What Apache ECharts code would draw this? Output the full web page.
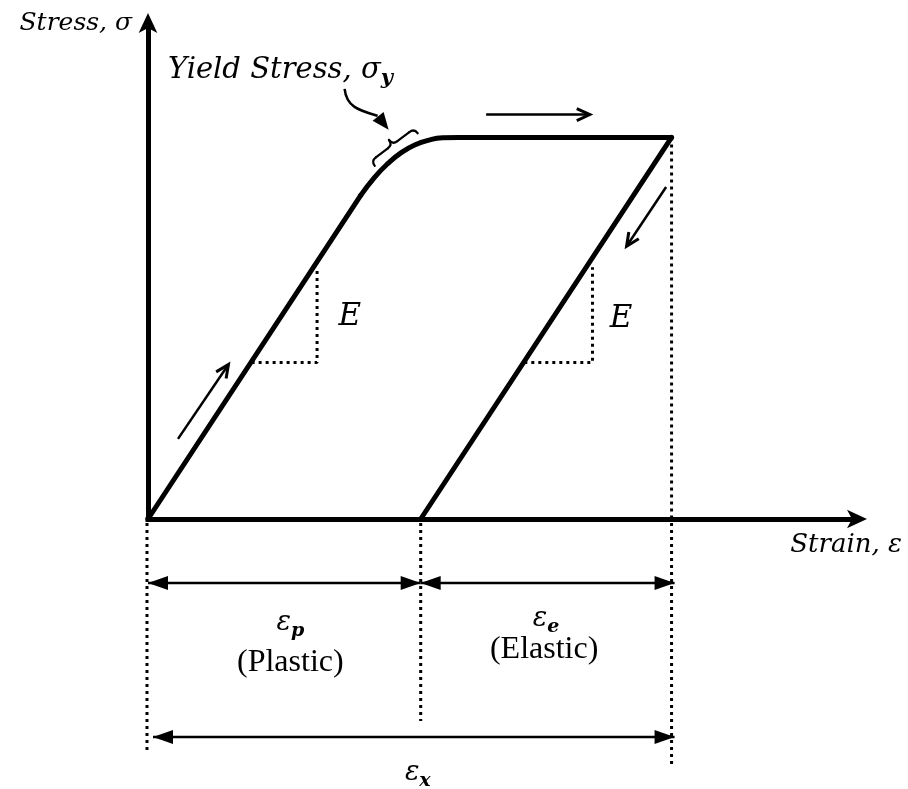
<!DOCTYPE html>
<html>
<head>
<meta charset="utf-8">
<script src="https://cdn.jsdelivr.net/npm/echarts@6/dist/echarts.min.js"></script>
<style>
  html, body { margin: 0; padding: 0; background: #ffffff; }
  #chart { width: 908px; height: 789px; }
</style>
</head>
<body>
<div id="chart"></div>
<script>
// Stress-strain loading / unloading cycle, normalised so that yield stress = 1.
// Each path is [strain, stress].
const loadingPath   = [[0, 0], [0.78, 0.848]];
const yieldKnee     = [[0.78, 0.848], [0.83, 0.895], [0.88, 0.932], [0.93, 0.961], [0.98, 0.981], [1.03, 0.993], [1.08, 0.999], [1.14, 1.0]];
const plateauPath   = [[1.14, 1.0], [1.92, 1.0]];
const unloadingPath = [[1.92, 1.0], [1.0, 0]];

const strainPlastic = 1.0;   // residual strain after unloading
const strainTotal   = 1.92;  // strain at the end of loading
const yieldStress   = 1.0;

// Slope triangles marking the modulus E
const slopeLeft  = [[0.38, 0.41], [0.62, 0.41], [0.62, 0.66]];
const slopeRight = [[1.38, 0.41], [1.63, 0.41], [1.63, 0.66]];

// Axis extents
const strainMax = 2.6;
const stressMax = 1.3;

// Text
const yTitle = 'Stress, σ';
const xTitle = 'Strain, ε';
const yieldText = 'Yield Stress, σ';
const yieldSub = 'y';
const modulusText = 'E';
const plasticSym = ['ε', 'p'];
const elasticSym = ['ε', 'e'];
const totalSym = ['ε', 'x'];
const plasticText = '(Plastic)';
const elasticText = '(Elastic)';

const MATH = 'DejaVu Serif';
const ROMAN = 'Liberation Serif';
const INK = '#000000';

const chart = echarts.init(document.getElementById('chart'), null, { renderer: 'canvas' });

function solid(name, data) {
  return {
    name: name, type: 'line', data: data, showSymbol: false, silent: true,
    lineStyle: { color: INK, width: 5, cap: 'round', join: 'round' }, z: 5
  };
}
function dotted(name, data) {
  return {
    name: name, type: 'line', data: data, showSymbol: false, silent: true,
    lineStyle: { color: INK, width: 3, type: [3, 4] }, z: 3
  };
}

const loadKnee = solid('yield knee', yieldKnee);
loadKnee.smooth = true;

const arrowAxisLine = {
  show: true, symbol: ['none', 'arrow'], symbolSize: [14, 20], symbolOffset: [0, 10],
  lineStyle: { color: INK, width: 5, cap: 'square' }
};

chart.setOption({
  animation: false,
  backgroundColor: '#ffffff',
  grid: { left: 148, right: 51, top: 23, bottom: 270 },
  xAxis: {
    type: 'value', min: 0, max: strainMax,
    name: xTitle, nameLocation: 'end', nameGap: 45,
    nameTextStyle: {
      fontFamily: MATH, fontStyle: 'italic', fontSize: 26, color: INK,
      align: 'right', verticalAlign: 'top', padding: [13, 0, 0, 0]
    },
    axisLine: arrowAxisLine,
    axisTick: { show: false }, axisLabel: { show: false }, splitLine: { show: false }
  },
  yAxis: {
    type: 'value', min: 0, max: stressMax,
    name: yTitle, nameLocation: 'end', nameGap: 0,
    nameTextStyle: {
      fontFamily: MATH, fontStyle: 'italic', fontSize: 25, color: INK,
      align: 'right', verticalAlign: 'middle', padding: [0, 16, 0, 0]
    },
    axisLine: arrowAxisLine,
    axisTick: { show: false }, axisLabel: { show: false }, splitLine: { show: false }
  },
  series: [
    solid('loading', loadingPath),
    loadKnee,
    solid('plateau', plateauPath),
    solid('unloading', unloadingPath),
    dotted('slope left', slopeLeft),
    dotted('slope right', slopeRight),
    dotted('total strain guide', [[strainTotal, yieldStress], [strainTotal, 0]])
  ]
});

// ---- annotations placed from data coordinates ----
const px = p => chart.convertToPixel({ gridIndex: 0 }, p);

function unit(a, b) {
  const dx = b[0] - a[0], dy = b[1] - a[1];
  const l = Math.sqrt(dx * dx + dy * dy);
  return [dx / l, dy / l];
}
function head(tip, dir, len, half, filled, lw) {
  const nx = -dir[1], ny = dir[0];
  const bx = tip[0] - dir[0] * len, by = tip[1] - dir[1] * len;
  const p1 = [bx + nx * half, by + ny * half];
  const p2 = [bx - nx * half, by - ny * half];
  if (filled) {
    return { type: 'polygon', shape: { points: [tip, p1, p2] }, style: { fill: INK }, z: 20 };
  }
  return {
    type: 'polyline', shape: { points: [p1, tip, p2] },
    style: { stroke: INK, lineWidth: lw || 2.5, fill: null, lineJoin: 'miter' }, z: 20
  };
}
// thin direction arrow with an open chevron head
function directionArrow(fromData, toData) {
  const a = px(fromData), b = px(toData);
  const d = unit(a, b);
  return [
    { type: 'line', shape: { x1: a[0], y1: a[1], x2: b[0], y2: b[1] },
      style: { stroke: INK, lineWidth: 2.5 }, z: 20 },
    head(b, d, 13, 6, false, 3)
  ];
}
// dimension line with filled heads at both ends
function dimension(x1, x2, y) {
  return [
    { type: 'line', shape: { x1: x1, y1: y, x2: x2, y2: y },
      style: { stroke: INK, lineWidth: 2.5 }, z: 20 },
    head([x1, y], [-1, 0], 20, 7, true),
    head([x2, y], [1, 0], 20, 7, true)
  ];
}
function guide(x, y1, y2) {
  return {
    type: 'line', shape: { x1: x, y1: y1, x2: x, y2: y2 },
    style: { stroke: INK, lineWidth: 3, lineDash: [3, 4] }, z: 10
  };
}
function symbolText(parts, x, y, size) {
  return {
    type: 'text', z: 20,
    style: {
      x: x, y: y, align: 'center', verticalAlign: 'middle',
      text: '{m|' + parts[0] + '}{s|' + parts[1] + '}',
      rich: {
        m: { fontFamily: MATH, fontStyle: 'italic', fontSize: size, lineHeight: size + 8, fill: INK, color: INK, verticalAlign: 'middle' },
        s: { fontFamily: MATH, fontStyle: 'italic', fontWeight: 'bold', fontSize: Math.round(size * 0.72), lineHeight: 12, fill: INK, color: INK, verticalAlign: 'bottom' }
      }
    }
  };
}
function romanText(str, x, y, size) {
  return {
    type: 'text', z: 20,
    style: { x: x, y: y, align: 'center', verticalAlign: 'middle', text: str,
      font: size + 'px "' + ROMAN + '"', fill: INK }
  };
}
function mathText(str, x, y, size) {
  return {
    type: 'text', z: 20,
    style: { x: x, y: y, align: 'center', verticalAlign: 'middle', text: str,
      font: 'italic ' + size + 'px "' + MATH + '"', fill: INK }
  };
}
function seg(x1, y1, x2, y2, lw) {
  return { type: 'line', shape: { x1: x1, y1: y1, x2: x2, y2: y2 },
    style: { stroke: INK, lineWidth: lw, lineCap: 'round' } };
}
function quad(x1, y1, cx, cy, x2, y2, lw) {
  return { type: 'bezierCurve', shape: { x1: x1, y1: y1, cpx1: cx, cpy1: cy, x2: x2, y2: y2 },
    style: { stroke: INK, lineWidth: lw, fill: null, lineCap: 'round' } };
}

const origin = px([0, 0]);
const xP = px([strainPlastic, 0])[0];
const xT = px([strainTotal, 0])[0];
const axisY = origin[1];
const row1 = axisY + 64;
const row2 = axisY + 218;

const g = [];
// guides below the strain axis
g.push(guide(origin[0] - 1, axisY + 4, axisY + 235));
g.push(guide(xP, axisY + 4, axisY + 202));
g.push(guide(xT, axisY + 4, axisY + 245));
// dimension lines
g.push(...dimension(origin[0], xP, row1));
g.push(...dimension(xP, xT + 3, row1));
g.push(...dimension(origin[0] + 5, xT + 3, row2));
// strain labels
g.push(symbolText(plasticSym, (origin[0] + xP) / 2 + 6, row1 + 40, 27));
g.push(romanText(plasticText, (origin[0] + xP) / 2 + 6, row1 + 80, 32));
g.push(symbolText(elasticSym, (xP + xT) / 2, row1 + 36, 27));
g.push(romanText(elasticText, (xP + xT) / 2 - 2, row1 + 67, 32));
g.push(symbolText(totalSym, (origin[0] + xT) / 2 + 8, row2 + 36, 27));

// modulus labels
const eL = px([0.74, 0.53]), eR = px([1.735, 0.525]);
g.push(mathText(modulusText, eL[0], eL[1], 31));
g.push(mathText(modulusText, eR[0], eR[1], 31));

// direction of travel
g.push(...directionArrow([0.11, 0.21], [0.295, 0.405]));
g.push(...directionArrow([1.24, 1.06], [1.62, 1.06]));
g.push(...directionArrow([1.9, 0.87], [1.755, 0.715]));

// yield stress callout: brace across the knee, curved pointer and title
const knee = px([0.93, 0.952]);
const bx = knee[0] - 9, by = knee[1] - 11;
const H = 27;   // half length of the brace
const lw = 2.2;
g.push({
  type: 'group', x: bx, y: by, rotation: 0.65, z: 20,
  children: [
    quad(-H, 6, -H, 0, -H + 6, 0, lw),
    seg(-H + 6, 0, -6, 0, lw),
    quad(-6, 0, 0, 0, 0, -6, lw),
    quad(0, -6, 0, 0, 6, 0, lw),
    seg(6, 0, H - 6, 0, lw),
    quad(H - 6, 0, H, 0, H, 6, lw)
  ]
});
const tip = [bx - 4, by - 15];
const tail = [tip[0] - 44, tip[1] - 41];
g.push({
  type: 'bezierCurve', z: 20,
  shape: {
    x1: tail[0], y1: tail[1],
    cpx1: tail[0] + 2, cpy1: tail[1] + 19,
    cpx2: tail[0] + 16, cpy2: tail[1] + 22,
    x2: tip[0] - 11, y2: tip[1] - 14
  },
  style: { stroke: INK, lineWidth: 2.5, fill: null }
});
g.push(head(tip, unit([tip[0] - 11, tip[1] - 14], tip), 17, 7, true));
g.push({
  type: 'text', z: 20,
  style: {
    x: 168, y: tail[1], align: 'left', verticalAlign: 'bottom',
    text: '{m|' + yieldText + '}{s|' + yieldSub + '}',
    rich: {
      m: { fontFamily: MATH, fontStyle: 'italic', fontSize: 29, lineHeight: 36, fill: INK, color: INK, verticalAlign: 'middle' },
      s: { fontFamily: MATH, fontStyle: 'italic', fontWeight: 'bold', fontSize: 21, lineHeight: 12, fill: INK, color: INK, verticalAlign: 'bottom' }
    }
  }
});

chart.setOption({ graphic: { elements: g } });
</script>
</body>
</html>
